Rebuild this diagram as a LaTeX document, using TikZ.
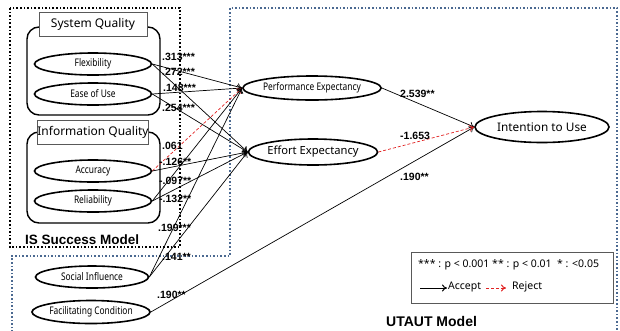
\documentclass[tikz,border=0pt]{standalone}
\usepackage{fontspec}
\setmainfont{Noto Sans}
\newfontfamily\condf[FakeStretch=0.8]{Noto Sans}
\newfontfamily\bfnt{Liberation Sans Bold}
\usetikzlibrary{arrows.meta,shapes.geometric}
\definecolor{rej}{RGB}{225,35,35}
\definecolor{utb}{RGB}{75,105,145}
\begin{document}
\begin{tikzpicture}[x=1pt,y=-1pt,
  ell/.style={ellipse, draw, line width=1.6pt, fill=white, minimum width=117pt, minimum height=22pt, inner sep=0pt, font=\condf\fontsize{10.5}{11}\selectfont},
  bigell/.style={ell, font=\fontsize{11.2}{12}\selectfont},
  grp/.style={draw, line width=1.4pt, rounded corners=12pt},
  ttl/.style={draw=black!65, fill=white, line width=0.9pt, minimum width=108pt, minimum height=24pt, inner sep=0pt, font=\fontsize{12}{14}\selectfont},
  lbl/.style={font=\bfnt\fontsize{10.5}{11}\selectfont, anchor=west, inner sep=0pt},
  acc/.style={-{To[length=5pt,width=7pt]}, line width=0.7pt},
  rejl/.style={acc, draw=rej, densely dashed},
  mdl/.style={font=\bfnt\fontsize{13.5}{15}\selectfont, anchor=west, inner sep=0pt}
]
\useasboundingbox (0,0) rectangle (620,330);
% outer model boxes
\draw[black, line width=1.6pt, dotted] (10,8) rectangle (180,247);
\draw[utb, line width=1.6pt, dotted] (12,332) -- (12,256) -- (230,256) -- (230,8) -- (617,8) -- (617,332);
\node[mdl] (ism) at (25,240) {IS Success Model};
\node[mdl, font=\bfnt\fontsize{14}{15}\selectfont] (utm) at (386,321) {UTAUT Model};
% groups
\draw[grp] (27,27) rectangle (160,115);
\node[ttl] (sq) at (93,24.5) {System Quality};
\draw[grp] (27,132) rectangle (160,223);
\node[ttl] (iq) at (93,132.5) {Information Quality};
% nodes
\node[ell] (flx) at (93,64) {Flexibility};
\node[ell] (eou) at (93,94) {Ease of Use};
\node[ell] (acu) at (93,171) {Accuracy};
\node[ell] (rel) at (93,201) {Reliability};
\node[ell, minimum width=113pt] (si) at (92,277) {Social Influence};
\node[ell, minimum width=115pt, minimum height=23pt] (fc) at (91,312) {Facilitating Condition};
\node[ell, minimum width=112pt, minimum height=24pt] (pe) at (312,88) {Performance Expectancy};
\node[bigell, minimum width=112pt, minimum height=26pt] (ee) at (313,152) {Effort Expectancy};
\node[bigell, font=\fontsize{11.8}{12}\selectfont, minimum width=134pt, minimum height=31pt] (itu) at (542,127) {Intention to Use};
% connectors
\draw[acc] (flx.east) -- (pe.west);
\draw[acc] (flx.east) -- (ee.west);
\draw[acc] (eou.east) -- (pe.west);
\draw[acc] (eou.east) -- (ee.west);
\draw[rejl] (acu.east) -- (pe.west);
\draw[acc] (acu.east) -- (ee.west);
\draw[acc] (rel.east) -- (pe.west);
\draw[acc] (rel.east) -- (ee.west);
\draw[acc] (si.east) -- (pe.west);
\draw[acc] (si.east) -- (ee.west);
\draw[acc] (fc.east) -- (itu.west);
\draw[acc] (pe.east) -- (itu.west);
\draw[rejl] (ee.east) -- (itu.west);
% labels
\node[lbl] (l1) at (162,57) {.313***};
\node[lbl] (l2) at (162,72) {.272***};
\node[lbl] (l3) at (163,88) {.148***};
\node[lbl] (l4) at (162,108) {.254***};
\node[lbl] (l5) at (162,146) {.061};
\node[lbl] (l6) at (159,162) {-.126**};
\node[lbl] (l7) at (159,181) {-.097**};
\node[lbl] (l8) at (159,199) {-.132**};
\node[lbl] (l9) at (158,228) {.199***};
\node[lbl] (l10) at (162,257) {.141**};
\node[lbl] (l11) at (157,295) {.190**};
\node[lbl] (l12) at (400,94) {2.539**};
\node[lbl] (l13) at (400,136) {-1.653};
\node[lbl] (l14) at (400,177) {.190**};
% legend
\draw[draw=black!65, line width=0.9pt] (411,252) rectangle (613,303);
\node[anchor=west, inner sep=0pt, font=\fontsize{10.5}{11}\selectfont] (lg) at (418,265) {*** : p {<} 0.001 ** : p {<} 0.01 \ * : {<}0.05};
\coordinate (a1) at (420,288);
\coordinate (a2) at (447,288);
\coordinate (r1) at (486,288);
\coordinate (r2) at (506,288);
\draw[acc, line width=1pt] (a1) -- (a2);
\draw[rejl, line width=1pt] (r1) -- (r2);
\node[anchor=west, inner sep=0pt, font=\fontsize{10.5}{12}\selectfont] (acct) at (448,287) {Accept};
\node[anchor=west, inner sep=0pt, font=\fontsize{10.5}{12}\selectfont] (rejt) at (512,287) {Reject};
\end{tikzpicture}
\end{document}
